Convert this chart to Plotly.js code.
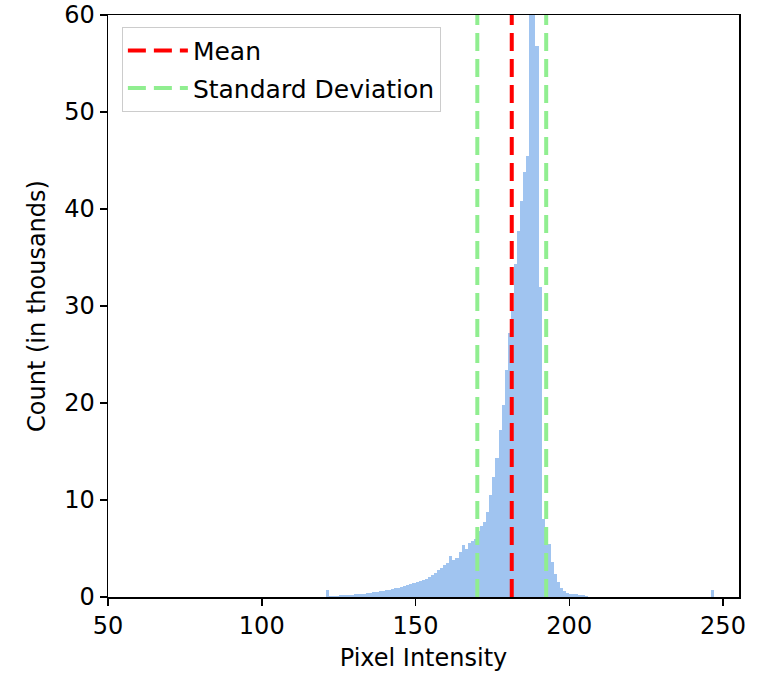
<!DOCTYPE html>
<html>
<head>
<meta charset="utf-8">
<script src="https://cdn.plot.ly/plotly-3.0.1.min.js"></script>
<style>html,body{margin:0;padding:0;background:#fff;}#chart{width:765px;height:676px;}</style>
</head>
<body>
<div id="chart"></div>
<script>
// Pixel intensity bins (left edges, width 1) and counts in thousands
const binStarts = [120,121,122,123,124,125,126,127,128,129,130,131,132,133,134,135,136,137,138,139,
  140,141,142,143,144,145,146,147,148,149,150,151,152,153,154,155,156,157,158,159,
  160,161,162,163,164,165,166,167,168,169,170,171,172,173,174,175,176,177,178,179,
  180,181,182,183,184,185,186,187,188,189,190,191,192,193,194,195,196,197,198,199,
  200,201,202,203,204,205,246];
const counts = [0.05,0.7,0.1,0.12,0.14,0.16,0.18,0.2,0.22,0.25,0.28,0.3,0.33,0.36,0.4,0.43,0.47,0.52,0.57,0.62,
  0.68,0.75,0.82,0.88,0.95,1.02,1.1,1.2,1.3,1.4,1.5,1.6,1.75,1.9,2.1,2.3,2.5,2.75,3.0,3.3,
  3.5,4.2,3.8,4.0,4.6,5.4,4.9,5.6,5.8,6.0,6.8,7.3,7.7,8.8,10.5,12.4,14.3,17.2,19.8,23.4,
  27.2,29.6,34.3,37.7,40.8,43.8,45.5,63,62,56.8,32,8,7,5.5,3.6,2.4,1.5,0.9,0.6,0.45,
  0.35,0.3,0.3,0.25,0.2,0.1,0.7];
const meanValue = 181.3;
const stdValue = 11.2;
const xTicks = [50,100,150,200,250];
const yTicks = [0,10,20,30,40,50,60];

const binCenters = binStarts.map(b => b + 0.5);
const yMax = 60;

const font = {family: 'DejaVu Sans, sans-serif', size: 24, color: '#000'};
const legendFont = {family: 'DejaVu Sans, sans-serif', size: 25, color: '#000'};

const traces = [
  {
    type: 'bar', x: binCenters, y: counts, width: 1,
    marker: {color: 'rgb(160,196,240)', line: {width: 0}},
    showlegend: false, hoverinfo: 'x+y'
  },
  {
    type: 'scatter', mode: 'lines', name: 'Mean', legendgroup: 'm',
    x: [meanValue, meanValue], y: [0, yMax],
    line: {color: '#ff0000', width: 4, dash: '18px,8px'}
  },
  {
    type: 'scatter', mode: 'lines', name: 'Standard Deviation', legendgroup: 's',
    x: [meanValue - stdValue, meanValue - stdValue, null, meanValue + stdValue, meanValue + stdValue],
    y: [0, yMax, null, 0, yMax],
    line: {color: '#90ee90', width: 4, dash: '18px,8px'}
  }
];

const layout = {
  width: 765, height: 676,
  margin: {l: 108, r: 26, t: 15, b: 79},
  paper_bgcolor: '#fff', plot_bgcolor: '#fff',
  font: font,
  bargap: 0,
  xaxis: {
    range: [50, 255.2], tickvals: xTicks, ticktext: xTicks.map(String),
    showgrid: false, zeroline: false,
    showline: true, mirror: true, linecolor: '#000', linewidth: 1.5,
    ticks: 'outside', ticklen: 7, tickwidth: 1.5, tickcolor: '#000',
    tickfont: font,
    title: {text: 'Pixel Intensity', font: font, standoff: 10}
  },
  yaxis: {
    range: [0, yMax], tickvals: yTicks, ticktext: yTicks.map(String),
    showgrid: false, zeroline: false,
    showline: true, mirror: true, linecolor: '#000', linewidth: 1.5,
    ticks: 'outside', ticklen: 7, tickwidth: 1.5, tickcolor: '#000',
    tickfont: font,
    title: {text: 'Count (in thousands)', font: font, standoff: 12}
  },
  legend: {
    x: 0.022, y: 0.98, xanchor: 'left', yanchor: 'top',
    bgcolor: 'rgba(255,255,255,0.8)', bordercolor: '#cccccc', borderwidth: 1,
    font: legendFont, traceorder: 'grouped', tracegroupgap: 2, itemwidth: 60
  },
  showlegend: true
};

Plotly.newPlot('chart', traces, layout, {displayModeBar: false, staticPlot: true});
</script>
</body>
</html>
